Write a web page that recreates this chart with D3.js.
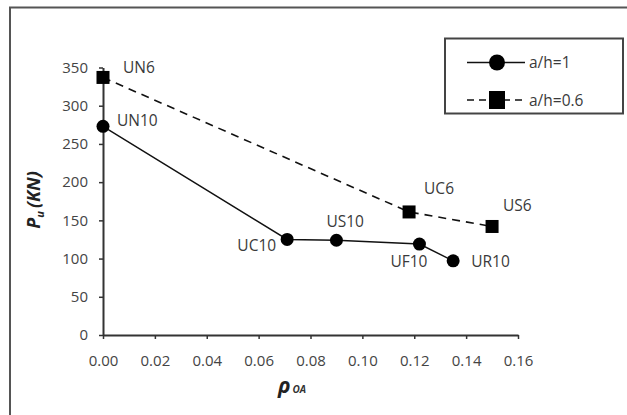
<!DOCTYPE html>
<html>
<head>
<meta charset="utf-8">
<script src="https://cdn.jsdelivr.net/npm/d3@7"></script>
<style>
  html, body { margin: 0; padding: 0; background: #fff; }
  svg { display: block; }
  text { font-family: "Open Sans", "Liberation Sans", sans-serif; }
</style>
</head>
<body>
<svg id="chart" width="627" height="415"></svg>
<script>
// Ultimate load P_u versus reinforcement ratio rho_OA
const xTicks = [0, 0.02, 0.04, 0.06, 0.08, 0.10, 0.12, 0.14, 0.16];
const yTicks = [0, 50, 100, 150, 200, 250, 300, 350];

// Series a/h = 1 (circles, solid line)
const names1 = ["UN10", "UC10", "US10", "UF10", "UR10"];
const rho1 = [0, 0.071, 0.090, 0.122, 0.135];
const pu1 = [273, 125, 124, 119, 97];

// Series a/h = 0.6 (squares, dashed line)
const names2 = ["UN6", "UC6", "US6"];
const rho2 = [0, 0.118, 0.150];
const pu2 = [337, 161, 142];

const seriesNames = ["a/h=1", "a/h=0.6"];

// Point label placement: [dx, dy, anchor]
const labelPlace = {
  UN10: [14, -6, "start"], UC10: [-11, 6, "end"], US10: [-10, -19, "start"],
  UF10: [-29, 17, "start"], UR10: [18, 1, "start"],
  UN6: [20, -10, "start"], UC6: [15, -24, "start"], US6: [11, -21, "start"]
};

const svg = d3.select("#chart");
const x = d3.scaleLinear().domain([0, 0.16]).range([103, 518]);
const y = d3.scaleLinear().domain([0, 350]).range([335, 67.5]);

const textCol = "#3a3a3a";
const axisCol = "#333";

// Outer frame (top and left edges)
svg.append("path")
  .attr("d", "M10,415 V7.5 H627")
  .attr("fill", "none").attr("stroke", "#555").attr("stroke-width", 2);

// Axes
const gx = svg.append("g").attr("transform", `translate(0,${y(0)})`)
  .call(d3.axisBottom(x).tickValues(xTicks).tickFormat(d3.format(".2f"))
    .tickSizeInner(4).tickSizeOuter(0).tickPadding(16));
const gy = svg.append("g").attr("transform", `translate(${x(0)},0)`)
  .call(d3.axisLeft(y).tickValues(yTicks).tickFormat(d3.format("d"))
    .tickSizeInner(4).tickSizeOuter(0).tickPadding(11));
[gx, gy].forEach(g => {
  g.select(".domain").attr("stroke", axisCol).attr("stroke-width", 2);
  g.selectAll(".tick line").attr("stroke", axisCol).attr("stroke-width", 1.5);
  g.selectAll(".tick text").attr("fill", "#444")
    .style("font-size", "15px").style("font-family", "'Open Sans', sans-serif");
});

// Lines
const pts1 = rho1.map((r, i) => ({ r, p: pu1[i], n: names1[i] }));
const pts2 = rho2.map((r, i) => ({ r, p: pu2[i], n: names2[i] }));
const line = d3.line().x(d => x(d.r)).y(d => y(d.p));

svg.append("path").datum(pts2).attr("d", line)
  .attr("fill", "none").attr("stroke", "#111").attr("stroke-width", 1.6)
  .attr("stroke-dasharray", "8,6");
svg.append("path").datum(pts1).attr("d", line)
  .attr("fill", "none").attr("stroke", "#111").attr("stroke-width", 1.4);

// Markers
svg.selectAll(".m1").data(pts1).join("circle").attr("class", "m1")
  .attr("cx", d => x(d.r)).attr("cy", d => y(d.p)).attr("r", 6.5).attr("fill", "#000");
const sq = 13;
svg.selectAll(".m2").data(pts2).join("rect").attr("class", "m2")
  .attr("x", d => x(d.r) - sq / 2).attr("y", d => y(d.p) - sq / 2)
  .attr("width", sq).attr("height", sq).attr("fill", "#000");

// Point labels
svg.selectAll(".lbl").data(pts1.concat(pts2)).join("text").attr("class", "lbl")
  .attr("x", d => x(d.r) + labelPlace[d.n][0])
  .attr("y", d => y(d.p) + labelPlace[d.n][1])
  .attr("dy", "0.36em")
  .attr("text-anchor", d => labelPlace[d.n][2])
  .attr("fill", textCol).style("font-size", "15.5px")
  .text(d => d.n);

// Axis titles
const yt = svg.append("text")
  .attr("transform", "translate(40,200) rotate(-90)")
  .attr("text-anchor", "middle")
  .style("font-size", "18px").style("font-weight", "bold").style("font-style", "italic")
  .attr("fill", "#222");
yt.append("tspan").text("P");
yt.append("tspan").attr("dy", 4).style("font-size", "11px").text("u");
yt.append("tspan").attr("dy", -4).text("\u2009(KN)");

const xt = svg.append("text")
  .attr("x", 278).attr("y", 393)
  .style("font-weight", "bold").style("font-style", "italic").attr("fill", "#222");
xt.append("tspan").style("font-size", "21px").text("\u03C1");
xt.append("tspan").attr("dx", 2).style("font-size", "10px").attr("fill", "#333").text("OA");

// Legend
const lg = svg.append("g");
lg.append("rect").attr("x", 445).attr("y", 38.5).attr("width", 178).attr("height", 75)
  .attr("fill", "#fff").attr("stroke", "#444").attr("stroke-width", 2);
const rows = [62.5, 100];
lg.append("line").attr("x1", 467).attr("x2", 525).attr("y1", rows[0]).attr("y2", rows[0])
  .attr("stroke", "#111").attr("stroke-width", 1.5);
lg.append("circle").attr("cx", 497).attr("cy", rows[0]).attr("r", 8).attr("fill", "#000");
lg.append("line").attr("x1", 467).attr("x2", 525).attr("y1", rows[1]).attr("y2", rows[1])
  .attr("stroke", "#111").attr("stroke-width", 1.5).attr("stroke-dasharray", "7,5");
lg.append("rect").attr("x", 489).attr("y", rows[1] - 9).attr("width", 16).attr("height", 18)
  .attr("fill", "#000");
lg.selectAll(".lt").data(seriesNames).join("text").attr("class", "lt")
  .attr("x", 529).attr("y", (d, i) => rows[i]).attr("dy", "0.36em")
  .attr("fill", textCol).style("font-size", "15.5px").text(d => d);
</script>
</body>
</html>
